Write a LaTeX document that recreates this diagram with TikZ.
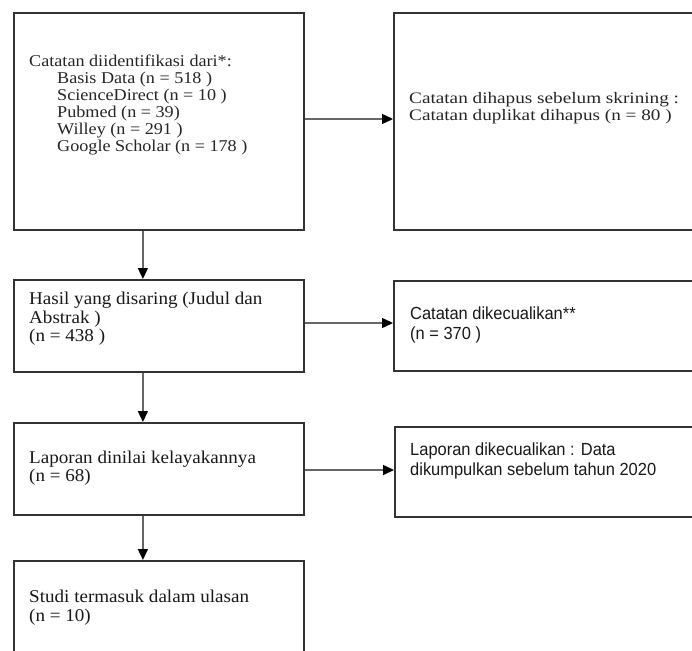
\documentclass[tikz,border=0pt]{standalone}
\usepackage{fontspec}
\usetikzlibrary{arrows.meta}
\newfontfamily\geoA{Liberation Serif}[FakeStretch=1.1]
\newfontfamily\geo{Liberation Serif}[FakeStretch=1.2]
\newfontfamily\cond{Liberation Serif}[FakeStretch=1.06]
\newfontfamily\sans{Liberation Sans}[FakeStretch=0.94]
\tikzset{
  box/.style={draw=black!80, line width=1.8pt, anchor=north west, inner sep=0pt},
  arr/.style={draw=black!60, line width=1.4pt, -{Triangle[length=11pt,width=10pt,color=black]}},
  geoAtxt/.style={anchor=west, align=left, inner sep=0pt, font=\geoA\fontsize{16.5}{17}\selectfont, text=black!85},
  geotxt/.style={anchor=west, align=left, inner sep=0pt, font=\geo\fontsize{16}{17}\selectfont, text=black!85},
  condtxt/.style={anchor=west, align=left, inner sep=0pt, font=\cond\fontsize{18}{18.5}\selectfont, text=black!90},
  sanstxt/.style={anchor=west, align=left, inner sep=0pt, font=\sans\fontsize{17.5}{20}\selectfont, text=black!90}
}
\begin{document}
\begin{tikzpicture}[x=1pt,y=-1pt]
\clip (0,0) rectangle (692,650);
\fill[white] (0,0) rectangle (692,650);
% boxes
\node[box, minimum width=290pt, minimum height=217pt] (b1) at (13,12) {};
\node[box, minimum width=320pt, minimum height=217pt] (b2) at (393,12) {};
\node[box, minimum width=290pt, minimum height=92pt] (hasil) at (13,279) {};
\node[box, minimum width=320pt, minimum height=90pt] (exc1) at (393,280) {};
\node[box, minimum width=290pt, minimum height=92pt] (lap) at (13,422) {};
\node[box, minimum width=320pt, minimum height=90pt] (exc2) at (394,426) {};
\node[box, minimum width=290pt, minimum height=140pt] (studi) at (13,560) {};
% texts
\node[geoAtxt] (t1) at (29,105) {Catatan diidentifikasi dari*:\\
\hspace*{28pt}Basis Data (n = 518 )\\
\hspace*{28pt}ScienceDirect (n = 10 )\\
\hspace*{28pt}Pubmed (n = 39)\\
\hspace*{28pt}Willey (n = 291 )\\
\hspace*{28pt}Google Scholar (n = 178 )};
\node[geotxt] (t2) at (409,108.5) {Catatan dihapus sebelum skrining :\\Catatan duplikat dihapus (n = 80 )};
\node[condtxt] (t3) at (29,319) {Hasil yang disaring (Judul dan\\Abstrak )\\(n = 438 )};
\node[sanstxt] (t4) at (410,325) {Catatan dikecualikan**\\(n = 370 )};
\node[condtxt] (t5) at (29,468) {Laporan dinilai kelayakannya\\(n = 68)};
\node[sanstxt] (t6) at (410,461) {Laporan dikecualikan : Data\\dikumpulkan sebelum tahun 2020};
\node[condtxt] (t7) at (29,607.5) {Studi termasuk dalam ulasan\\(n = 10)};
% connectors
\draw[arr] ([xshift=-16pt]b1.south) -- ([xshift=-16pt]hasil.north);
\draw[arr] ([xshift=-16pt]hasil.south) -- ([xshift=-16pt]lap.north);
\draw[arr] ([xshift=-16pt]lap.south) -- ([xshift=-16pt]studi.north);
\draw[arr] (b1.east |- 0,119) -- (b2.west |- 0,119);
\draw[arr] (hasil.east |- 0,323) -- (exc1.west |- 0,323);
\draw[arr] (lap.east |- 0,470) -- (exc2.west |- 0,470);
\end{tikzpicture}
\end{document}
